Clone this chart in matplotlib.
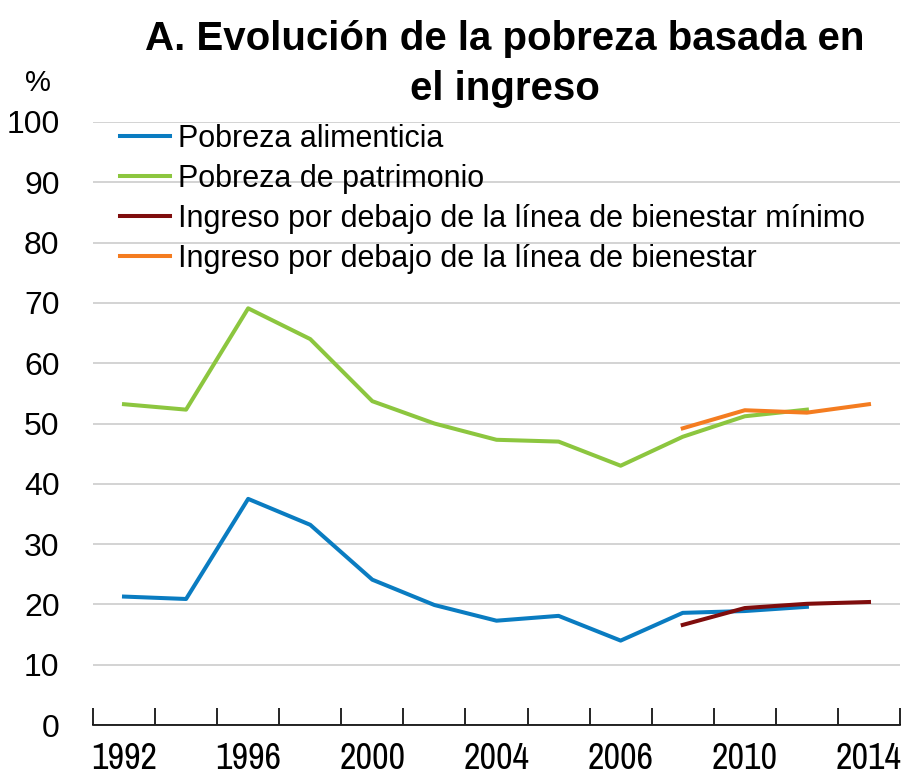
import matplotlib
matplotlib.use("Agg")
import matplotlib.pyplot as plt

years = ["1992", "1994", "1996", "1998", "2000", "2002", "2004", "2005",
         "2006", "2008", "2010", "2012", "2014"]
tick_labels = ["1992", "", "1996", "", "2000", "", "2004", "", "2006", "",
               "2010", "", "2014"]

alimentaria = [21.3, 20.9, 37.5, 33.2, 24.1, 19.9, 17.3, 18.1, 14.0, 18.6, 18.9, 19.6]
patrimonio = [53.2, 52.3, 69.1, 64.0, 53.7, 50.0, 47.3, 47.0, 43.0, 47.8, 51.2, 52.3]
# 2008-2014
bienestar_min = [16.6, 19.4, 20.1, 20.4]
bienestar = [49.2, 52.2, 51.8, 53.2]

narrow = ['Archivo Narrow', 'Liberation Sans', 'DejaVu Sans']
regular = ['Liberation Sans', 'DejaVu Sans']
plt.rcParams['font.family'] = regular

fig = plt.figure(figsize=(9.06, 7.77), dpi=100)
ax = fig.add_axes([0.1026, 0.0669, 0.8908, 0.7761])

x = list(range(len(years)))
lw = 2.9
ax.plot(x[:12], alimentaria, color='#0a7cc1', lw=lw, label='Pobreza alimenticia')
ax.plot(x[:12], patrimonio, color='#8cc63f', lw=lw, label='Pobreza de patrimonio')
ax.plot(x[9:], bienestar_min, color='#7f0d0d', lw=lw,
        label='Ingreso por debajo de la línea de bienestar mínimo')
ax.plot(x[9:], bienestar, color='#f47c20', lw=lw,
        label='Ingreso por debajo de la línea de bienestar')

ax.set_xlim(-0.5, 12.5)
ax.set_ylim(0, 100)
ax.set_yticks(range(0, 101, 10))
ax.set_yticklabels([str(v) for v in range(0, 101, 10)], fontsize=23)
ax.yaxis.grid(True, color='#d0d0d0', lw=1.3)
ax.set_axisbelow(True)
ax.tick_params(axis='y', length=0, pad=24)

ax.set_xticks([i - 0.5 for i in range(14)], minor=False)
ax.set_xticklabels([])
ax.set_xticks(x, minor=True)
ax.set_xticklabels(tick_labels, minor=True, fontsize=26, family=narrow)
ax.tick_params(axis='x', which='major', direction='in', length=12, width=1.2)
ax.tick_params(axis='x', which='minor', length=0, pad=12)

for s in ['left', 'right', 'top']:
    ax.spines[s].set_visible(False)
ax.spines['bottom'].set_linewidth(1.2)

leg = ax.legend(loc='upper left', bbox_to_anchor=(0.033, 0.997), frameon=False,
                fontsize=22, handlelength=1.65, handletextpad=0.27,
                labelspacing=0.33, borderaxespad=0, borderpad=0)

fig.text(0.557, 0.918, "A. Evolución de la pobreza basada en\nel ingreso",
         ha='center', va='center', fontsize=29, fontweight='bold',
         linespacing=1.4)
fig.text(0.042, 0.893, "%", ha='center', va='center', fontsize=21)

fig.savefig("out.png", dpi=100)
